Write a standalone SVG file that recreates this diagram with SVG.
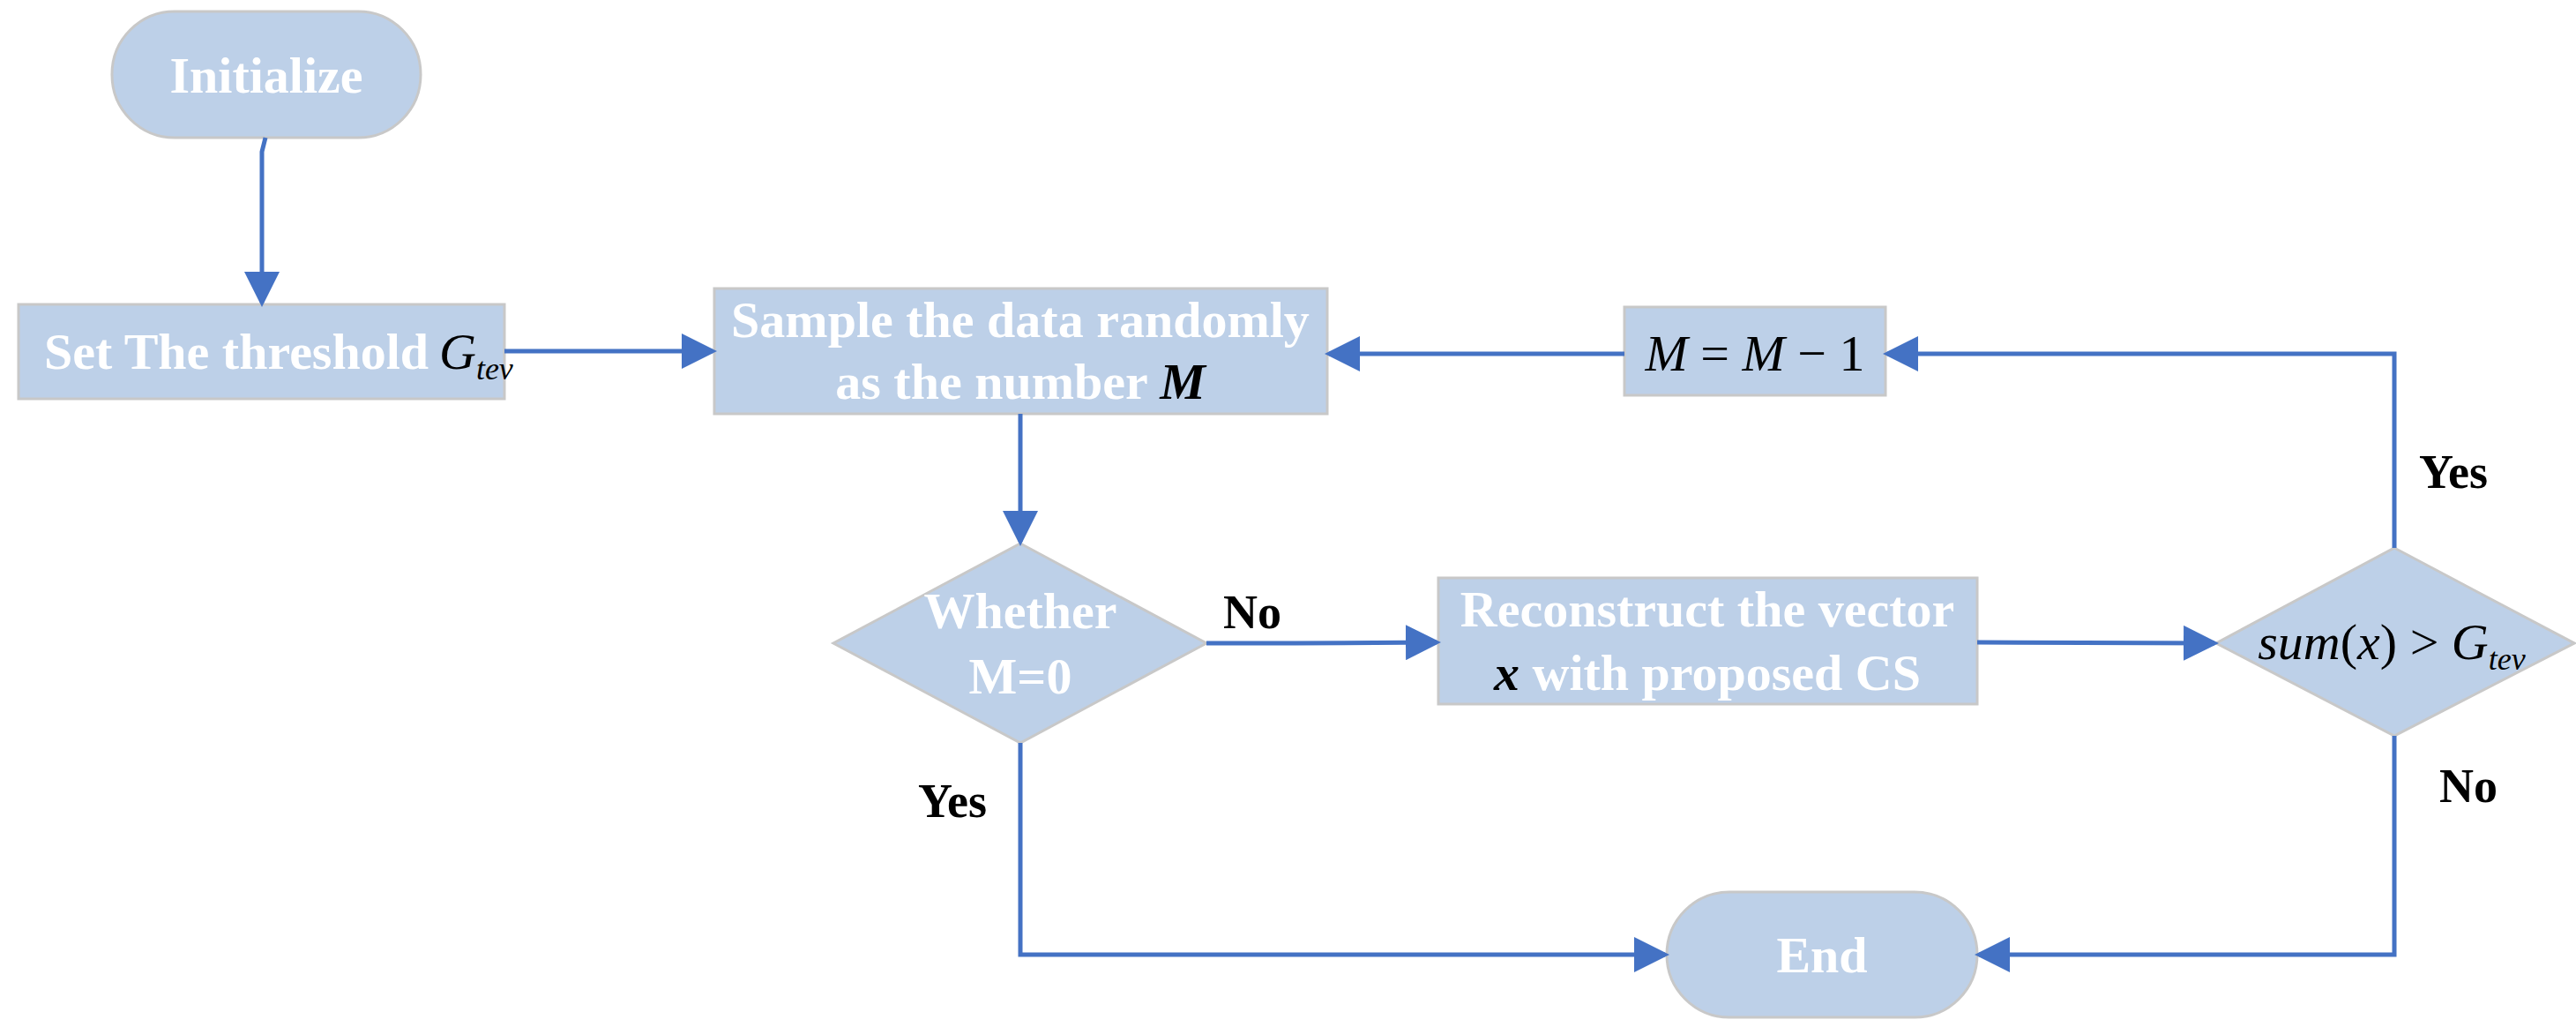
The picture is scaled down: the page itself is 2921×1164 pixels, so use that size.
<svg xmlns="http://www.w3.org/2000/svg" width="2921" height="1164" viewBox="0 0 2921 1164">
<style>
.n{fill:#BDD0E8;stroke:#C8C8C8;stroke-width:3}
.t{font-family:"Liberation Serif",serif;font-weight:bold;font-size:58px;fill:#fff;text-anchor:middle}
.m{font-family:"Liberation Serif",serif;font-size:58px;fill:#000}
.l{font-family:"Liberation Serif",serif;font-weight:bold;font-size:54px;fill:#000}
.c{fill:none;stroke:#4472C4;stroke-width:5}
</style>
<defs><marker id="a" markerWidth="8" markerHeight="8" refX="7" refY="4" orient="auto" markerUnits="strokeWidth"><path d="M0,0L8,4L0,8z" fill="#4472C4"/></marker></defs>
<g id="initialize"><rect class="n" x="127" y="13" width="350" height="143" rx="71"/><text class="t" x="302" y="105">Initialize</text></g>
<g id="threshold"><rect class="n" x="21" y="345" width="551" height="107"/><text class="t" x="268" y="418" text-anchor="middle">Set The threshold</text><text class="m" x="498" y="418" font-style="italic">G<tspan font-size="36" dy="12">tev</tspan></text></g>
<g id="sample"><rect class="n" x="810" y="327" width="695" height="142"/><text class="t" x="1157" y="382">Sample the data randomly</text><text class="t" x="1157" y="452">as the number <tspan fill="#000" font-style="italic">M</tspan></text></g>
<g id="mminus"><rect class="n" x="1842" y="348" width="296" height="100"/><text class="m" x="1990" y="420" text-anchor="middle"><tspan font-style="italic">M</tspan> = <tspan font-style="italic">M</tspan> − 1</text></g>
<g id="whether"><polygon class="n" points="1157,616 1368,729 1157,842 945,729"/><text class="t" x="1157" y="712">Whether</text><text class="t" x="1157" y="786">M=0</text></g>
<g id="reconstruct"><rect class="n" x="1631" y="655" width="611" height="143"/><text class="t" x="1936" y="710">Reconstruct the vector</text><text class="t" x="1936" y="782"><tspan fill="#000" font-style="italic">x</tspan> with proposed CS</text></g>
<g id="sum"><polygon class="n" points="2715,621 2919,729 2715,834 2513,729"/><text class="m" x="2712" y="747" text-anchor="middle"><tspan font-style="italic">sum</tspan>(<tspan font-style="italic">x</tspan>) &gt; <tspan font-style="italic">G</tspan><tspan font-style="italic" font-size="36" dy="12">tev</tspan></text></g>
<g id="end"><rect class="n" x="1890" y="1011" width="352" height="142" rx="71"/><text class="t" x="2066" y="1102">End</text></g>
<g id="connectors">
<path class="c" d="M301,156L297,172L297,343" marker-end="url(#a)"/>
<path class="c" d="M572,398L808,398" marker-end="url(#a)"/>
<path class="c" d="M1157,469L1157,614" marker-end="url(#a)"/>
<path class="c" d="M1368,729L1469,729L1629,728" marker-end="url(#a)"/>
<path class="c" d="M2242,728L2511,729" marker-end="url(#a)"/>
<path class="c" d="M2715,621L2715,401L2140,401" marker-end="url(#a)"/>
<path class="c" d="M1842,401L1507,401" marker-end="url(#a)"/>
<path class="c" d="M1157,842L1157,1082L1888,1082" marker-end="url(#a)"/>
<path class="c" d="M2715,834L2715,1082L2244,1082" marker-end="url(#a)"/>
</g>
<g id="labels">
<text class="l" x="1387" y="712">No</text>
<text class="l" x="1041" y="926">Yes</text>
<text class="l" x="2743" y="553">Yes</text>
<text class="l" x="2766" y="909">No</text>
</g>
</svg>
